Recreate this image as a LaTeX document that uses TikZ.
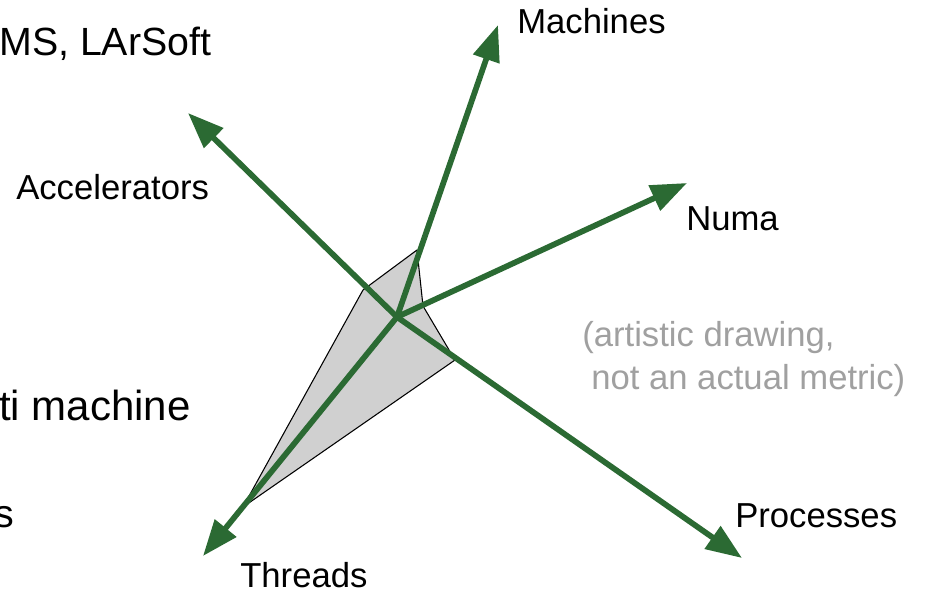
\documentclass[tikz,border=0pt]{standalone}
\usepackage{fontspec}
\setmainfont{Liberation Sans}
\usetikzlibrary{arrows.meta}
\definecolor{axisgreen}{HTML}{2B6A33}
\definecolor{notegray}{HTML}{A0A0A0}
\definecolor{webfill}{HTML}{D0D0D0}

\begin{document}
\begin{tikzpicture}[x=0.75pt, y=-0.75pt,
  axis/.style={draw=axisgreen, line width=4.3pt, -{Triangle[length=27pt, width=20pt]}},
  lbl/.style={inner sep=0pt, anchor=base west, font=\fontsize{26}{30}\selectfont},
  big/.style={inner sep=0pt, anchor=base west, font=\fontsize{29.5}{34}\selectfont},
  note/.style={lbl, text=notegray}]
  \useasboundingbox (0,0) rectangle (926,593);
  \clip (0,0) rectangle (926,593);

  % centre and axis ends
  \coordinate (o) at (397,317);
  \coordinate (machtip) at (498,25);
  \coordinate (numatip) at (687,183);
  \coordinate (proctip) at (742,558);
  \coordinate (thrtip) at (203,556);
  \coordinate (acctip) at (188,113);

  % the web
  \draw[fill=webfill, line width=0.8pt, line join=round]
    (417,250) -- (423,306) -- (455,360) -- (243,507) -- (363,290) -- cycle;

  % axes
  \draw[axis] (o) -- (machtip);
  \draw[axis] (o) -- (numatip);
  \draw[axis] (o) -- (proctip);
  \draw[axis] (o) -- (thrtip);
  \draw[axis] (o) -- (acctip);

  % axis labels
  \node[lbl] (mach) at (517,33) {Machines};
  \node[lbl] (numa) at (686,230) {Numa};
  \node[lbl] (proc) at (735,527) {Processes};
  \node[lbl] (thr) at (240,587) {Threads};
  \node[lbl] (acc) at (16,199) {Accelerators};

  % note
  \node[note] (note1) at (582,346) {(artistic drawing,};
  \node[note] (note2) at (591,389) {not an actual metric)};

  % text running in from the left
  \node[big] (sw) at (-1,55) {MS, LArSoft};
  \node[big, font=\fontsize{31.5}{36}\selectfont] (multi) at (-1,420) {ti machine};
  \node[big] (tail) at (-6,527) {s};
\end{tikzpicture}
\end{document}
